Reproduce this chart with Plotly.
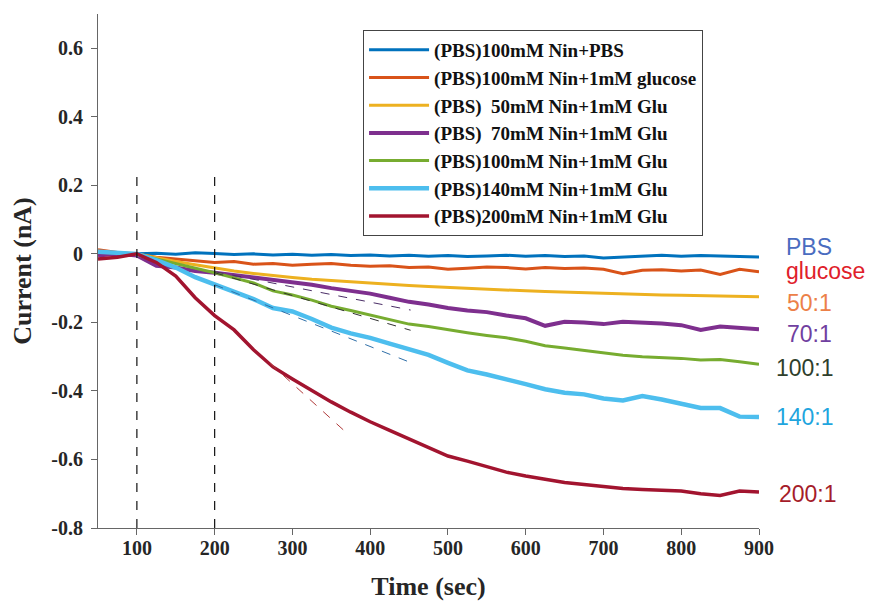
import plotly.graph_objects as go

time_s = [50, 75, 100, 125, 150, 175, 200, 225, 250, 275, 300, 325, 350, 375, 400, 425, 450,
          475, 500, 525, 550, 575, 600, 625, 650, 675, 700, 725, 750, 775, 800, 825, 850, 875, 900]

pbs = [0.003, -0.002, 0.0, 0.002, -0.001, 0.003, 0.001, -0.002, 0.0, -0.003, -0.001, -0.004,
       -0.002, -0.005, -0.003, -0.006, -0.004, -0.007, -0.005, -0.008, -0.006, -0.004, -0.007,
       -0.005, -0.008, -0.006, -0.012, -0.009, -0.006, -0.004, -0.007, -0.005, -0.006, -0.008, -0.009]
glucose = [0.012, 0.004, 0.0, -0.01, -0.015, -0.02, -0.025, -0.022, -0.03, -0.028, -0.033, -0.03,
           -0.028, -0.033, -0.036, -0.035, -0.04, -0.038, -0.045, -0.042, -0.038, -0.04, -0.044,
           -0.04, -0.043, -0.041, -0.045, -0.058, -0.048, -0.046, -0.05, -0.047, -0.06, -0.045, -0.052]
nin50 = [0.008, 0.002, 0.0, -0.012, -0.022, -0.032, -0.042, -0.05, -0.057, -0.064, -0.069, -0.074,
         -0.078, -0.082, -0.086, -0.089, -0.092, -0.095, -0.098, -0.101, -0.103, -0.106, -0.108,
         -0.11, -0.112, -0.114, -0.115, -0.117, -0.118, -0.12, -0.121, -0.122, -0.123, -0.124, -0.125]
nin70 = [-0.005, 0.0, -0.005, -0.035, -0.04, -0.05, -0.055, -0.062, -0.068, -0.077, -0.083, -0.09,
         -0.1, -0.108, -0.116, -0.128, -0.14, -0.148, -0.158, -0.165, -0.17, -0.18, -0.188,
         -0.21, -0.198, -0.2, -0.205, -0.198, -0.2, -0.203, -0.208, -0.222, -0.212, -0.216, -0.22]
nin100 = [0.005, 0.002, 0.0, -0.015, -0.028, -0.04, -0.055, -0.07, -0.085, -0.108, -0.12, -0.135,
          -0.153, -0.165, -0.178, -0.192, -0.205, -0.212, -0.222, -0.23, -0.238, -0.245, -0.255,
          -0.268, -0.275, -0.282, -0.29, -0.296, -0.3, -0.302, -0.305, -0.31, -0.308, -0.315, -0.322]
nin140 = [0.006, 0.003, 0.0, -0.018, -0.04, -0.068, -0.09, -0.11, -0.132, -0.158, -0.168, -0.19,
          -0.215, -0.232, -0.245, -0.262, -0.28, -0.295, -0.318, -0.34, -0.352, -0.365, -0.38,
          -0.395, -0.405, -0.41, -0.422, -0.428, -0.415, -0.425, -0.436, -0.45, -0.45, -0.475, -0.476]
nin200 = [-0.015, -0.01, 0.0, -0.025, -0.065, -0.128, -0.18, -0.222, -0.28, -0.33, -0.365, -0.398,
          -0.432, -0.462, -0.49, -0.515, -0.54, -0.565, -0.59, -0.605, -0.622, -0.637, -0.648,
          -0.658, -0.667, -0.673, -0.68, -0.685, -0.688, -0.69, -0.692, -0.7, -0.705, -0.692, -0.695]

series_names = ["(PBS)100mM Nin+PBS", "(PBS)100mM Nin+1mM glucose",
                "(PBS)\u00a0\u00a050mM Nin+1mM Glu", "(PBS)\u00a0\u00a070mM Nin+1mM Glu",
                "(PBS)100mM Nin+1mM Glu", "(PBS)140mM Nin+1mM Glu", "(PBS)200mM Nin+1mM Glu"]
series_values = [pbs, glucose, nin50, nin70, nin100, nin140, nin200]
series_colors = ["#0072BD", "#D95319", "#EDB120", "#7E2F8E", "#77AC30", "#4DBEEE", "#A2142F"]
series_widths = [3, 3, 3, 4, 3, 4.5, 3.5]

# linear fit (tangent) dashed lines: [t0, t1], [v0, v1]
fit_t = {"70": [200, 452], "100": [200, 452], "140": [200, 454], "200": [271, 370]}
fit_v = {"70": [-0.052, -0.164], "100": [-0.055, -0.223], "140": [-0.09, -0.319], "200": [-0.319, -0.523]}
fit_colors = {"70": "#4a2d66", "100": "#333333", "140": "#2f6fa8", "200": "#b03a3a"}

# vertical markers at 100 s and 200 s
marker_t = [100, 200]
marker_top = [0.241, 0.235]

end_labels = ["PBS", "glucose", "50:1", "70:1", "100:1", "140:1", "200:1"]
end_label_y = [0.02, -0.05, -0.144, -0.234, -0.333, -0.476, -0.70]
end_label_x = [1.0757, 1.101, 1.0757, 1.0757, 1.0696, 1.0696, 1.074]
end_label_colors = ["#4a6cc0", "#e0202a", "#ec8048", "#7040a0", "#2f3f2c", "#1fa5de", "#a51c2a"]

y_ticks = [-0.8, -0.6, -0.4, -0.2, 0, 0.2, 0.4, 0.6]
y_ticktext = ["-0.8", "-0.6", "-0.4", "-0.2", "0", "0.2", "0.4", "0.6"]
x_ticks = [100, 200, 300, 400, 500, 600, 700, 800, 900]

fig = go.Figure()
for i, (name, vals) in enumerate(zip(series_names, series_values)):
    fig.add_trace(go.Scatter(x=time_s, y=vals, mode="lines", name=name,
                             line=dict(color=series_colors[i], width=series_widths[i])))

for key in fit_t:
    fig.add_trace(go.Scatter(x=fit_t[key], y=fit_v[key], mode="lines", showlegend=False,
                             line=dict(color=fit_colors[key], width=1, dash="dash")))

for t, top in zip(marker_t, marker_top):
    fig.add_trace(go.Scatter(x=[t, t], y=[-0.8, top], mode="lines", showlegend=False,
                             line=dict(color="#111111", width=1.2, dash="dash")))

for lab, yv, xv, col in zip(end_labels, end_label_y, end_label_x, end_label_colors):
    fig.add_annotation(text=lab, x=xv, xref="paper", y=yv, yref="y", showarrow=False,
                       xanchor="center", yanchor="middle",
                       font=dict(family="Liberation Sans", size=23, color=col))

axis_font = dict(family="Liberation Serif", size=20, color="#262626", weight="bold")
title_font = dict(family="Liberation Serif", size=26, color="#262626", weight="bold")

fig.update_xaxes(range=[50, 900], tickvals=x_ticks, showline=True, linecolor="#666666",
                 linewidth=1, ticks="outside", ticklen=6, tickcolor="#666666",
                 showgrid=False, zeroline=False, tickfont=axis_font, automargin=False,
                 ticklabelstandoff=-4,
                 title=dict(text="Time (sec)", font=title_font, standoff=18))
fig.update_yaxes(range=[-0.8, 0.7], tickvals=y_ticks, ticktext=y_ticktext, showline=True,
                 linecolor="#666666", linewidth=1, ticks="outside", ticklen=6,
                 tickcolor="#666666", showgrid=False, zeroline=False, tickfont=axis_font,
                 automargin=False, ticklabelstandoff=4,
                 title=dict(text="Current (nA)", font=title_font, standoff=14))

# page body has an 8px margin, so the figure is sized/positioned to compensate
fig.update_layout(
    width=865, height=595,
    margin=dict(l=90, r=114, t=6, b=75),
    plot_bgcolor="white", paper_bgcolor="white",
    legend=dict(x=0.401, y=0.969, xanchor="left", yanchor="top",
                bgcolor="white", bordercolor="#444444", borderwidth=1,
                font=dict(family="Liberation Serif", size=19, color="#111111", weight="bold"),
                itemwidth=60),
)

fig.write_html("out.html")
